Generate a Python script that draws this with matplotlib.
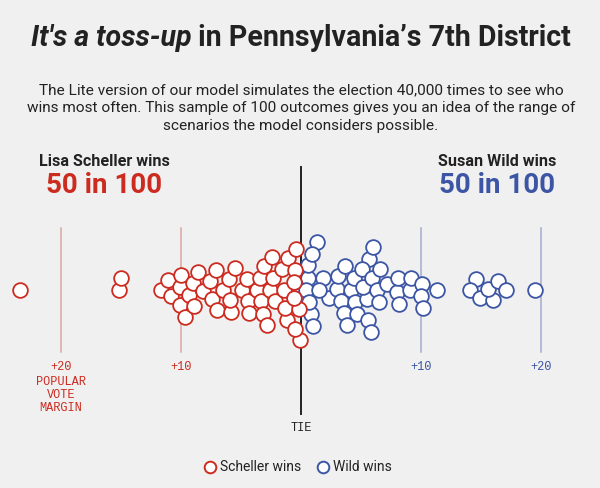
import numpy as np
import matplotlib
matplotlib.use("Agg")
import matplotlib.pyplot as plt

# ---- data: simulated popular-vote margins (Wild minus Scheller, points) ----
scheller_margins = [-23.4, -15.2, -15.0, -11.7, -11.1, -10.8, -10.1, -10.0, -10.1, -9.7,
                    -9.3, -9.0, -8.9, -8.6, -8.2, -7.6, -7.4, -7.1, -7.0, -6.5,
                    -6.0, -5.8, -5.5, -5.9, -4.9, -4.4, -4.3, -4.5, -3.7, -3.3,
                    -3.4, -3.1, -3.2, -2.8, -2.6, -2.2, -2.4, -2.3, -1.6, -1.2,
                    -1.3, -1.4, -1.1, -0.4, -0.1, -0.5, -0.2, -0.5, -0.6, -0.6]
wild_margins = [0.8, 1.0, 0.6, 1.3, 0.6, 0.9, 0.4, 0.7, 1.8, 2.3,
                3.0, 3.1, 3.3, 3.6, 3.7, 3.8, 4.2, 4.5, 4.4, 4.7,
                5.7, 5.5, 5.1, 5.2, 5.6, 5.8, 6.0, 5.9, 6.6, 6.3,
                6.5, 7.2, 8.0, 8.2, 8.1, 9.1, 9.2, 10.1, 10.0, 10.2,
                11.3, 14.6, 14.1, 14.9, 16.0, 15.6, 16.4, 17.1, 19.5, 1.5]
grid_values = [-20, -10, 10, 20]
grid_labels = ["+20", "+10", "+10", "+20"]
scheller_wins = 50
wild_wins = 50

RED = "#cc2b20"
BLUE = "#3c55a5"
RED_GRID = "#dba7a4"
BLUE_GRID = "#a4abcf"
BG = "#f0f0f0"

W, H = 600, 488
fig = plt.figure(figsize=(W / 100, H / 100), dpi=100, facecolor=BG)
ax = fig.add_axes([0, 0, 1, 1])
ax.set_facecolor(BG)
PX_PER_PT = 12.0
X0 = 301.0
ax.set_xlim(-X0 / PX_PER_PT, (W - X0) / PX_PER_PT)
ax.set_ylim(H, 0)
ax.axis("off")

CY = 290.0  # swarm centre line (px)
D = 12.4    # collision distance (px)

# ---- beeswarm layout (greedy, in pixel space) ----
all_m = np.array(scheller_margins + wild_margins)
xs_px = all_m * PX_PER_PT
order = np.argsort(xs_px, kind="stable")
ys = np.zeros(len(all_m))
placed = []
for i in order:
    xi = xs_px[i]
    cands = [0.0]
    for j in placed:
        dx = xi - xs_px[j]
        if abs(dx) < D:
            h = np.sqrt(D * D - dx * dx)
            cands += [ys[j] + h, ys[j] - h]
    cands = sorted(cands, key=lambda v: (abs(v), v))
    for c in cands:
        ok = True
        for j in placed:
            if (xi - xs_px[j]) ** 2 + (c - ys[j]) ** 2 < D * D - 1e-6:
                ok = False
                break
        if ok:
            ys[i] = c
            break
    placed.append(i)

ns = len(scheller_margins)
y_s = CY + ys[:ns]
y_w = CY + ys[ns:]

# ---- grid lines & tie line ----
for v in grid_values:
    ax.plot([v, v], [228, 352], color=RED_GRID if v < 0 else BLUE_GRID, lw=1.1, zorder=1)
ax.plot([0, 0], [167, 414], color="#222222", lw=1.4, zorder=1)

# ---- circles ----
ms = 112
ax.scatter(wild_margins, y_w, s=ms, facecolor="white", edgecolor=BLUE, linewidth=1.3, zorder=3)
ax.scatter(scheller_margins, y_s, s=ms, facecolor="white", edgecolor=RED, linewidth=1.3, zorder=4)

# ---- axis labels ----
mono = "Liberation Mono"
for v, lab in zip(grid_values, grid_labels):
    ax.text(v, 367, lab, ha="center", va="center", family=mono, fontsize=8.6,
            color=RED if v < 0 else BLUE)
ax.text(-20, 395, "POPULAR\nVOTE\nMARGIN", ha="center", va="center", family=mono,
        fontsize=8.6, color=RED, linespacing=1.1)
ax.text(0, 428, "TIE", ha="center", va="center", family=mono, fontsize=8.6, color="#222222")


def fx(px):
    return px / W


def fy(py):
    return 1 - py / H


# ---- title (two styles, centred together) ----
tfont = "Roboto"
t1 = fig.text(0, fy(38), "It's a toss-up", fontsize=20.6, fontweight="bold", fontstyle="italic",
              family=tfont, color="#222222", va="center", ha="left")
t2 = fig.text(0, fy(38), " in Pennsylvania\u2019s 7th District", fontsize=20.6, fontweight="bold",
              family=tfont, color="#222222", va="center", ha="left")
fig.canvas.draw()
r = fig.canvas.get_renderer()
w1 = t1.get_window_extent(r).width
w2 = t2.get_window_extent(r).width
start = X0 - (w1 + w2) / 2
t1.set_x(fx(start))
t2.set_x(fx(start + w1))

# ---- subtitle ----
sub = ("The Lite version of our model simulates the election 40,000 times to see who\n"
       "wins most often. This sample of 100 outcomes gives you an idea of the range of\n"
       "scenarios the model considers possible.")
fig.text(fx(X0), fy(108), sub, ha="center", va="center", fontsize=11.1, family="Roboto",
         color="#222222", linespacing=1.32)

# ---- headline counts ----
fig.text(fx(104), fy(161), "Lisa Scheller wins", ha="center", va="center", fontsize=11.6,
         fontweight="bold", family="Roboto", color="#222222")
fig.text(fx(104), fy(186), f"{scheller_wins} in 100", ha="center", va="center", fontsize=20,
         fontweight="bold", family="Roboto", color=RED)
fig.text(fx(497), fy(161), "Susan Wild wins", ha="center", va="center", fontsize=11.6,
         fontweight="bold", family="Roboto", color="#222222")
fig.text(fx(497), fy(186), f"{wild_wins} in 100", ha="center", va="center", fontsize=20,
         fontweight="bold", family="Roboto", color=BLUE)

# ---- legend ----
ax.scatter([(210 - X0) / PX_PER_PT], [467], s=70, facecolor="white", edgecolor=RED, linewidth=1.4)
ax.scatter([(323 - X0) / PX_PER_PT], [467], s=70, facecolor="white", edgecolor=BLUE, linewidth=1.4)
fig.text(fx(220), fy(467), "Scheller wins", ha="left", va="center", fontsize=10,
         family="Roboto", color="#222222")
fig.text(fx(333), fy(467), "Wild wins", ha="left", va="center", fontsize=10,
         family="Roboto", color="#222222")

fig.savefig("out.png", dpi=100, facecolor=BG)
